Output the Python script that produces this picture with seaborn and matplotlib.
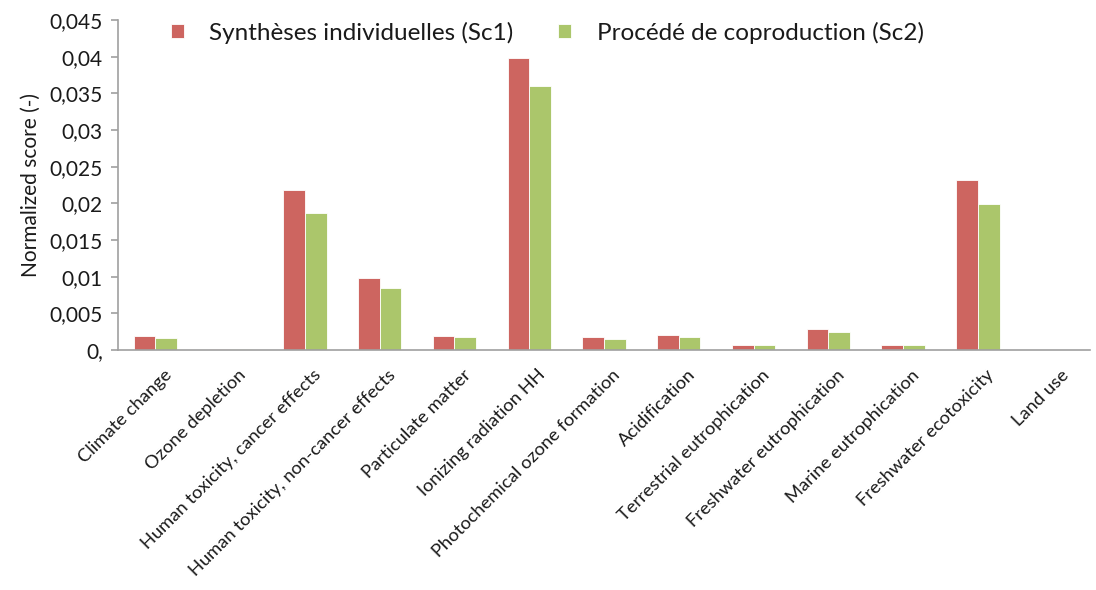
import pandas as pd
import numpy as np
import matplotlib.pyplot as plt
import matplotlib.transforms as mtransforms
import seaborn as sns

# Data
categories = ['Climate change', 'Ozone depletion', 'Human toxicity, cancer effects',
              'Human toxicity, non-cancer effects', 'Particulate matter', 'Ionizing radiation HH',
              'Photochemical ozone formation', 'Acidification', 'Terrestrial eutrophication',
              'Freshwater eutrophication', 'Marine eutrophication', 'Freshwater ecotoxicity',
              'Land use']
sc1 = [0.00195, 0.0002, 0.0218, 0.0098, 0.00195, 0.0398, 0.00173, 0.00205,
       0.00064, 0.0029, 0.00064, 0.0232, 0.0]
sc2 = [0.00164, 0.0002, 0.0187, 0.00845, 0.00177, 0.0360, 0.00150, 0.00177,
       0.00064, 0.0025, 0.00064, 0.0199, 0.0]
series_names = ['Synthèses individuelles (Sc1)', 'Procédé de coproduction (Sc2)']
ytick_values = [0, 0.005, 0.01, 0.015, 0.02, 0.025, 0.03, 0.035, 0.04, 0.045]
ytick_labels = ['0,', '0,005', '0,01', '0,015', '0,02', '0,025', '0,03', '0,035', '0,04', '0,045']

df = pd.DataFrame({
    'category': categories * 2,
    'score': sc1 + sc2,
    'scenario': [series_names[0]] * len(categories) + [series_names[1]] * len(categories),
})

sns.set_style('white')
plt.rcParams['font.family'] = ['Lato', 'DejaVu Sans']

fig = plt.figure(figsize=(10.96, 5.90), dpi=100)
ax = fig.add_axes([0.1077, 0.4068, 0.8868, 0.5593])

sns.barplot(data=df, x='category', y='score', hue='scenario',
            palette=['#CD6560', '#ABC66B'], saturation=1, width=0.58,
            edgecolor='white', linewidth=0.6, ax=ax)

ax.set_ylim(0, 0.045)
ax.set_xlim(-0.5, 12.26)
ax.set_yticks(ytick_values)
ax.set_yticklabels(ytick_labels, fontsize=15, color='#1a1a1a')
ax.set_ylabel('Normalized score (-)', fontsize=15, labelpad=6, color='#1a1a1a')
ax.set_xlabel('')

ax.set_xticks(range(len(categories)))
ax.set_xticklabels(categories, rotation=45, ha='right', rotation_mode='anchor',
                   fontsize=13.2, color='#1a1a1a')
ax.tick_params(axis='x', which='major', length=0, pad=12)
shift = mtransforms.ScaledTranslation(8 / 100, 0, fig.dpi_scale_trans)
for lab in ax.get_xticklabels():
    lab.set_transform(lab.get_transform() + shift)
ax.set_xticks(np.arange(-0.5, len(categories), 1), minor=True)
ax.tick_params(axis='x', which='minor', length=5, color='#a0a0a0', width=1.2)
ax.tick_params(axis='y', length=5, color='#a0a0a0', width=1.2, left=True, pad=6)

for side in ['top', 'right']:
    ax.spines[side].set_visible(False)
for side in ['left', 'bottom']:
    ax.spines[side].set_color('#a0a0a0')
    ax.spines[side].set_linewidth(1.2)

leg = ax.legend(loc='upper left', bbox_to_anchor=(0.156, 0.963),
                bbox_transform=fig.transFigure, ncol=2, frameon=False,
                fontsize=17.5, handlelength=0.52, handleheight=0.52,
                handletextpad=1.05, columnspacing=1.85, borderpad=0,
                borderaxespad=0)
for t in leg.get_texts():
    t.set_color('#1a1a1a')

plt.savefig('out.png', dpi=100)
